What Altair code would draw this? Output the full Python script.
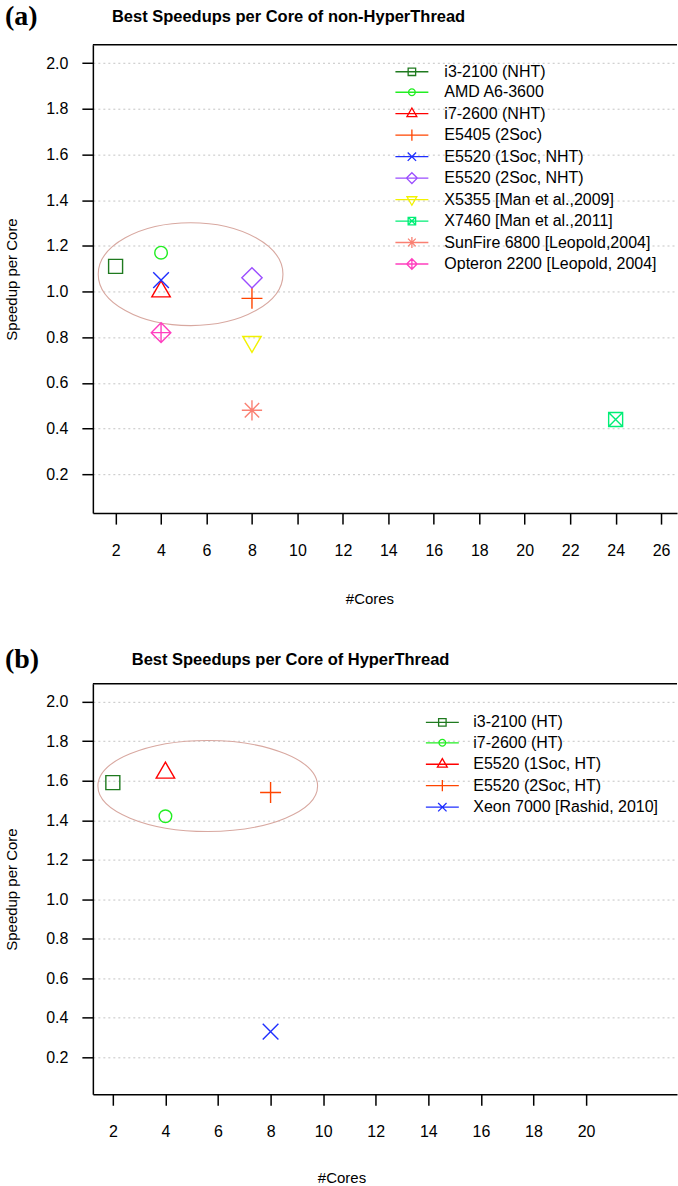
import altair as alt
import pandas as pd

# ---------------- data: panel (a) non-HyperThread ----------------
a_labels = ["i3-2100 (NHT)", "AMD A6-3600", "i7-2600 (NHT)", "E5405 (2Soc)",
            "E5520 (1Soc, NHT)", "E5520 (2Soc, NHT)", "X5355 [Man et al.,2009]",
            "X7460 [Man et al.,2011]", "SunFire 6800 [Leopold,2004]",
            "Opteron 2200 [Leopold, 2004]"]
a_cores = [2, 4, 4, 8, 4, 8, 8, 24, 8, 4]
a_speedup = [1.11, 1.17, 1.00, 0.97, 1.05, 1.06, 0.78, 0.44, 0.48, 0.82]
a_colors = ["#1f7a1f", "#22ee22", "#ff0000", "#ff4500", "#1f2fff", "#9b4dff",
            "#f2f200", "#00ee76", "#fa8072", "#ff3fbf"]
a_symbols = ["square", "circle", "triangle", "plus", "cross", "diamond",
             "triangle_down", "square_x", "asterisk", "diamond_plus"]
a_xticks = [2, 4, 6, 8, 10, 12, 14, 16, 18, 20, 22, 24, 26]

# ---------------- data: panel (b) HyperThread ----------------
b_labels = ["i3-2100 (HT)", "i7-2600 (HT)", "E5520 (1Soc, HT)", "E5520 (2Soc, HT)",
            "Xeon 7000 [Rashid, 2010]"]
b_cores = [2, 4, 4, 8, 8]
b_speedup = [1.59, 1.42, 1.64, 1.54, 0.33]
b_colors = ["#1f7a1f", "#22ee22", "#ff0000", "#ff4500", "#1f2fff"]
b_symbols = ["square", "circle", "triangle", "plus", "cross"]
b_xticks = [2, 4, 6, 8, 10, 12, 14, 16, 18, 20]

y_ticks = [0.2, 0.4, 0.6, 0.8, 1.0, 1.2, 1.4, 1.6, 1.8, 2.0]

# highlighted groups (ellipse centres in data units)
a_ellipse = {"cores": [5.3], "speedup": [1.076]}
b_ellipse = {"cores": [5.61], "speedup": [1.573]}

FONT = "Liberation Sans"


def n(v):
    return f"{v:.3f}".rstrip("0").rstrip(".")


def sym_path(name, k):
    """R-like pch symbols as SVG path, unit scale k."""
    if name == "square":
        return f"M{n(-k)},{n(-k)}H{n(k)}V{n(k)}H{n(-k)}Z"
    if name == "circle":
        r = 0.9 * k
        return f"M{n(-r)},0A{n(r)},{n(r)} 0 1,0 {n(r)},0A{n(r)},{n(r)} 0 1,0 {n(-r)},0Z"
    if name == "triangle":
        return f"M0,{n(-1.52*k)}L{n(1.32*k)},{n(0.76*k)}H{n(-1.32*k)}Z"
    if name == "triangle_down":
        return f"M0,{n(1.52*k)}L{n(1.32*k)},{n(-0.76*k)}H{n(-1.32*k)}Z"
    if name == "plus":
        a = 1.5 * k
        return f"M{n(-a)},0H{n(a)}M0,{n(-a)}V{n(a)}"
    if name == "cross":
        a = 1.12 * k
        return f"M{n(-a)},{n(-a)}L{n(a)},{n(a)}M{n(-a)},{n(a)}L{n(a)},{n(-a)}"
    if name == "diamond":
        a = 1.45 * k
        return f"M0,{n(-a)}L{n(a)},0L0,{n(a)}L{n(-a)},0Z"
    if name == "square_x":
        return (f"M{n(-k)},{n(-k)}H{n(k)}V{n(k)}H{n(-k)}Z"
                f"M{n(-k)},{n(-k)}L{n(k)},{n(k)}M{n(-k)},{n(k)}L{n(k)},{n(-k)}")
    if name == "asterisk":
        a = 1.45 * k
        d = 1.03 * k
        return (f"M{n(-a)},0H{n(a)}M0,{n(-a)}V{n(a)}"
                f"M{n(-d)},{n(-d)}L{n(d)},{n(d)}M{n(-d)},{n(d)}L{n(d)},{n(-d)}")
    if name == "diamond_plus":
        a = 1.4 * k
        return (f"M0,{n(-a)}L{n(a)},0L0,{n(a)}L{n(-a)},0Z"
                f"M{n(-a)},0H{n(a)}M0,{n(-a)}V{n(a)}")
    return "circle"


def legend_path(name):
    return "M-3.3,0H3.3" + sym_path(name, 0.75)


def ellipse_path(ratio):
    r = n(ratio)
    return f"M-1,0A1,{r} 0 1,0 1,0A1,{r} 0 1,0 -1,0Z"


def panel(labels, cores, speed, colors, symbols, xticks, xdom, ydom, height,
          title, tag, head_y, title_x, ell, ell_rx, ell_ratio,
          leg_x, leg_y, leg_label_offset, leg_row_pad, xtitle_x, xtitle_y):
    width = 585
    df = pd.DataFrame({"label": labels, "cores": cores, "speedup": speed})

    x_enc = alt.X("cores:Q",
                  scale=alt.Scale(domain=xdom, nice=False, zero=False),
                  axis=alt.Axis(values=xticks, title="#Cores", grid=False,
                                labelPadding=18, titleX=xtitle_x, titleY=xtitle_y,
                                labelFlush=False, labelOverlap=False))
    y_enc = alt.Y("speedup:Q",
                  scale=alt.Scale(domain=ydom, nice=False, zero=False),
                  axis=alt.Axis(values=y_ticks, format=".1f", title="Speedup per Core",
                                grid=True, gridDash=[2, 3], gridColor="#c4c4c4",
                                gridWidth=1, labelPadding=14,
                                titleX=-73, titleY=height / 2,
                                labelFlush=False, labelOverlap=False))

    ellipse = alt.Chart(pd.DataFrame(ell)).mark_point(
        shape=ellipse_path(ell_ratio), size=(2 * ell_rx) ** 2, filled=False,
        color="#d8a8a0", strokeWidth=1.1, opacity=1
    ).encode(x=x_enc, y=y_enc)

    points = alt.Chart(df).mark_point(
        filled=False, size=196, strokeWidth=1.4, opacity=1
    ).encode(
        x=x_enc, y=y_enc,
        color=alt.Color("label:N", scale=alt.Scale(domain=labels, range=colors), legend=None),
        shape=alt.Shape("label:N",
                        scale=alt.Scale(domain=labels, range=[sym_path(s, 1.0) for s in symbols]),
                        legend=None),
    )

    leg = alt.Legend(orient="none", legendX=leg_x, legendY=leg_y, title=None,
                     labelFont=FONT, labelFontSize=16, labelColor="black",
                     labelLimit=400, symbolSize=100, symbolStrokeWidth=1.3,
                     labelOffset=leg_label_offset, rowPadding=leg_row_pad,
                     padding=0, symbolOpacity=1)
    legend_layer = alt.Chart(df).transform_filter("false").mark_point(
        filled=False, strokeWidth=1.3, opacity=1
    ).encode(
        x=x_enc, y=y_enc,
        color=alt.Color("label:N", scale=alt.Scale(domain=labels, range=colors), legend=leg),
        shape=alt.Shape("label:N",
                        scale=alt.Scale(domain=labels, range=[legend_path(s) for s in symbols]),
                        legend=leg),
    )

    top_border = alt.Chart(pd.DataFrame({"k": [0]})).mark_rule(
        color="black", strokeWidth=1.5
    ).encode(y=alt.value(0), x=alt.value(0), x2=alt.value(width))

    tag_text = alt.Chart(pd.DataFrame({"t": [tag]})).mark_text(
        font="Liberation Serif", fontWeight="bold", fontSize=28,
        align="left", baseline="middle", color="black"
    ).encode(text="t:N", x=alt.value(-88), y=alt.value(head_y))

    title_text = alt.Chart(pd.DataFrame({"t": [title]})).mark_text(
        font=FONT, fontWeight="bold", fontSize=16.5,
        align="center", baseline="middle", color="black"
    ).encode(text="t:N", x=alt.value(title_x), y=alt.value(head_y))

    return alt.layer(ellipse, points, legend_layer, top_border, tag_text, title_text).resolve_scale(
        color="independent", shape="independent"
    ).properties(width=width, height=height)


chart_a = panel(a_labels, a_cores, a_speedup, a_colors, a_symbols, a_xticks,
                xdom=[1.0, 26.7], ydom=[0.03, 2.08], height=469,
                title="Best Speedups per Core of non-HyperThread", tag="(a)",
                head_y=-28, title_x=196, ell=a_ellipse, ell_rx=92.5, ell_ratio=0.557,
                leg_x=311.5, leg_y=19, leg_label_offset=24.5, leg_row_pad=4.5,
                xtitle_x=277, xtitle_y=79)

chart_b = panel(b_labels, b_cores, b_speedup, b_colors, b_symbols, b_xticks,
                xdom=[1.24, 23.46], ydom=[0.013, 2.09], height=411,
                title="Best Speedups per Core of HyperThread", tag="(b)",
                head_y=-24, title_x=198, ell=b_ellipse, ell_rx=110, ell_ratio=0.414,
                leg_x=342, leg_y=30.5, leg_label_offset=23, leg_row_pad=4.5,
                xtitle_x=249, xtitle_y=76)

chart = alt.vconcat(chart_a, chart_b, spacing=39).properties(
    padding={"left": 5, "top": 2, "right": 0, "bottom": 0},
    background="white",
).configure_view(stroke=None).configure_axis(
    domainColor="black", domainWidth=1.5, tickColor="black", tickWidth=1.5,
    tickSize=11, labelFont=FONT, labelFontSize=16, labelColor="black",
    titleFont=FONT, titleFontSize=15, titleFontWeight="normal", titleColor="black",
)

chart.save("out.html", embed_options={"renderer": "svg", "actions": False})
